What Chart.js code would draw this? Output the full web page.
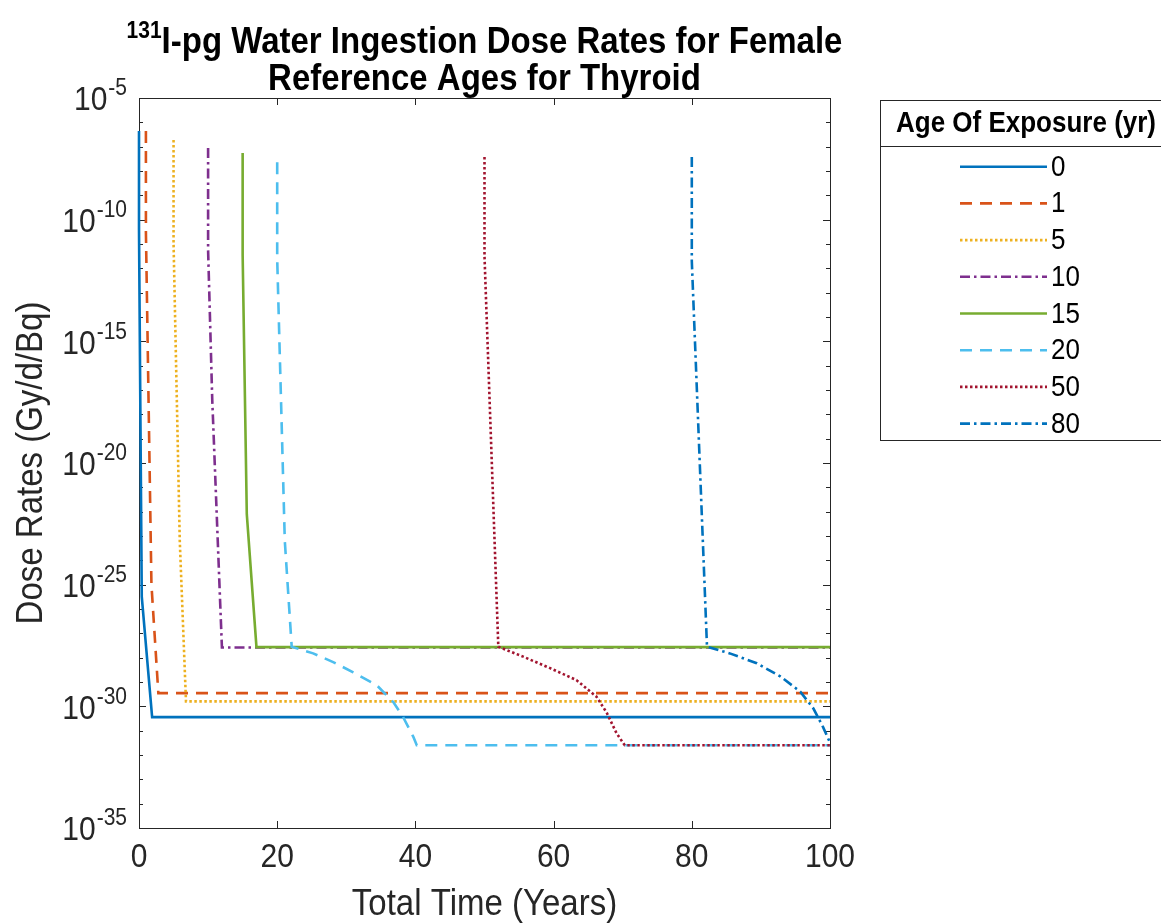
<!DOCTYPE html>
<html lang="en">
<head>
<meta charset="UTF-8">
<title>131I-pg Water Ingestion Dose Rates - Thyroid</title>
<script src="https://cdn.jsdelivr.net/npm/chart.js"></script>
<style>
    html, body { margin: 0; padding: 0; background: #fff; }
    #wrap { width: 1161px; height: 924px; position: relative; }
</style>
</head>
<body>
<div id="wrap"><canvas id="grafico"></canvas></div>
<script>
// ages of exposure (legend entries)
const ages = ['0', '1', '5', '10', '15', '20', '50', '80'];

// total time (years) and dose rate (Gy/d/Bq) for each age
const t0 = [0, 0, 0.4, 1.9, 100];
const d0 = [4.4e-7, 4.0e-11, 3.2e-26, 3.6e-31, 3.6e-31];

const t1 = [1, 1, 1.8, 2.8, 100];
const d1 = [4.4e-7, 3.2e-11, 1.0e-25, 3.5e-30, 3.5e-30];

const t5 = [5, 5, 5.9, 6.8, 100];
const d5 = [1.9e-7, 1.1e-11, 6.3e-24, 1.6e-30, 1.6e-30];

const t10 = [10, 10, 10.6, 12, 100];
const d10 = [8.9e-8, 5.6e-12, 4.0e-18, 2.6e-28, 2.6e-28];

const t15 = [15, 15, 15.6, 17, 100];
const d15 = [5.5e-8, 3.5e-12, 7.9e-23, 2.7e-28, 2.7e-28];

const t20 = [20, 20, 21.1, 22.1, 25.2, 28.1, 31.0, 34.4, 36.8, 38.2, 39.7, 40.2, 100];
const d20 = [2.3e-8, 2.5e-12, 6.3e-24, 2.8e-28, 1.5e-28, 6.6e-29, 2.5e-29, 7.4e-30, 1.5e-30, 3.7e-31, 5.6e-32, 2.5e-32, 2.5e-32];

const t50 = [50, 50, 52, 55.6, 59.5, 63.3, 66.2, 67.7, 69.1, 70.3, 100];
const d50 = [3.8e-8, 3.2e-12, 2.8e-28, 1.1e-28, 3.7e-29, 1.2e-29, 2.5e-30, 5.4e-31, 7.9e-32, 2.5e-32, 2.5e-32];

const t80 = [80, 80, 82.2, 85.5, 89.4, 92.8, 95.7, 97.6, 99, 100];
const d80 = [3.8e-8, 2.0e-12, 2.8e-28, 1.5e-28, 5.9e-29, 1.7e-29, 4.0e-30, 8.1e-31, 1.4e-31, 3.2e-32];

// axis ticks
const xTicks = [0, 20, 40, 60, 80, 100];
const yExpMajor = [-5, -10, -15, -20, -25, -30, -35];

const tempos = [t0, t1, t5, t10, t15, t20, t50, t80];
const doses = [d0, d1, d5, d10, d15, d20, d50, d80];

// MATLAB default colour order and line styles
const cores = ['#0072BD', '#D95319', '#EDB120', '#7E2F8E', '#77AC30', '#4DBEEE', '#A2142F', '#0072BD'];
const tracos = [[], [12, 8], [2.5, 2.5], [10, 4, 2.5, 4], [], [12, 8], [2.5, 2.5], [10, 4, 2.5, 4]];

const AXIS = '#262626';
const FONT = '"Liberation Sans", Arial, Helvetica, sans-serif';
const STRETCH = 1.12; // glyphs in the figure are a little taller than Arial

function texto(ctx, str, x, y, font, align, base, rot) {
    ctx.save();
    ctx.translate(x, y);
    if (rot) ctx.rotate(rot);
    ctx.scale(1, STRETCH);
    ctx.font = font;
    ctx.textAlign = align;
    ctx.textBaseline = base;
    ctx.fillText(str, 0, 0);
    ctx.restore();
}

// axes box, inward ticks, labels, title and legend in MATLAB style
const matlabStyle = {
    id: 'matlabStyle',
    beforeDatasetsDraw(chart) {
        const ctx = chart.ctx;
        const a = chart.chartArea;
        const xs = chart.scales.x, ys = chart.scales.y;

        ctx.save();
        ctx.strokeStyle = AXIS;
        ctx.lineWidth = 1;
        ctx.strokeRect(a.left + 0.5, a.top + 0.5, a.right - a.left, a.bottom - a.top);

        ctx.beginPath();
        xTicks.forEach(v => {
            const px = Math.round(xs.getPixelForValue(v)) + 0.5;
            ctx.moveTo(px, a.bottom); ctx.lineTo(px, a.bottom - 7);
            ctx.moveTo(px, a.top); ctx.lineTo(px, a.top + 7);
        });
        for (let e = -35; e <= -5; e++) {
            const py = Math.round(ys.getPixelForValue(Math.pow(10, e))) + 0.5;
            const len = e % 5 === 0 ? 7 : 4;
            ctx.moveTo(a.left, py); ctx.lineTo(a.left + len, py);
            ctx.moveTo(a.right, py); ctx.lineTo(a.right - len, py);
        }
        ctx.stroke();
        ctx.restore();
    },
    afterDraw(chart) {
        const ctx = chart.ctx;
        const a = chart.chartArea;
        const xs = chart.scales.x, ys = chart.scales.y;

        ctx.save();
        // tick labels
        ctx.fillStyle = AXIS;
        xs.ticks.forEach(t => {
            texto(ctx, String(t.value), xs.getPixelForValue(t.value), a.bottom + 30, '30px ' + FONT, 'center', 'middle');
        });
        yExpMajor.forEach(e => {
            const py = ys.getPixelForValue(Math.pow(10, e));
            ctx.font = '21px ' + FONT;
            const w = ctx.measureText('-' + (-e)).width;
            texto(ctx, '-' + (-e), a.left - 12, py - 9, '21px ' + FONT, 'right', 'middle');
            texto(ctx, '10', a.left - 13 - w, py + 3, '30px ' + FONT, 'right', 'middle');
        });

        // axis titles
        texto(ctx, 'Total Time (Years)', (a.left + a.right) / 2, 905, '33px ' + FONT, 'center', 'middle');
        texto(ctx, 'Dose Rates (Gy/d/Bq)', 32, (a.top + a.bottom) / 2, '33px ' + FONT, 'center', 'middle', -Math.PI / 2);

        // title with superscript mass number
        ctx.fillStyle = '#000';
        const cx = (a.left + a.right) / 2;
        const sup = '131', l1 = 'I-pg Water Ingestion Dose Rates for Female';
        ctx.font = 'bold 21px ' + FONT;
        const ws = ctx.measureText(sup).width;
        ctx.font = 'bold 33px ' + FONT;
        const w1 = ctx.measureText(l1).width;
        const x0 = cx - (ws + w1) / 2;
        texto(ctx, sup, x0, 38, 'bold 21px ' + FONT, 'left', 'alphabetic');
        texto(ctx, l1, x0 + ws, 53, 'bold 33px ' + FONT, 'left', 'alphabetic');
        texto(ctx, 'Reference Ages for Thyroid', cx, 90, 'bold 33px ' + FONT, 'center', 'alphabetic');

        // legend
        const L = 880, T = 100, R = 1172, B = 440, SEP = 146;
        ctx.fillStyle = '#fff';
        ctx.fillRect(L, T, R - L, B - T);
        ctx.strokeStyle = AXIS;
        ctx.lineWidth = 1;
        ctx.strokeRect(L + 0.5, T + 0.5, R - L, B - T);
        ctx.beginPath();
        ctx.moveTo(L, SEP + 0.5); ctx.lineTo(R, SEP + 0.5);
        ctx.stroke();
        ctx.fillStyle = '#000';
        texto(ctx, 'Age Of Exposure (yr)', (L + R) / 2, (T + SEP) / 2 + 1, 'bold 26px ' + FONT, 'center', 'middle');
        chart.data.datasets.forEach((ds, i) => {
            const ry = 166.7 + i * 36.7;
            ctx.save();
            ctx.strokeStyle = ds.borderColor;
            ctx.lineWidth = ds.borderWidth;
            ctx.setLineDash(ds.borderDash);
            ctx.beginPath();
            ctx.moveTo(960, ry); ctx.lineTo(1047, ry);
            ctx.stroke();
            ctx.restore();
            texto(ctx, ds.label, 1051, ry + 1, '26px ' + FONT, 'left', 'middle');
        });
        ctx.restore();
    }
};

const datasets = ages.map((age, i) => ({
    label: age,
    data: tempos[i].map((t, k) => ({ x: t, y: doses[i][k] })),
    borderColor: cores[i],
    borderDash: tracos[i],
    borderWidth: 2.6,
    borderCapStyle: 'butt',
    pointRadius: 0,
    fill: false,
    tension: 0,
    clip: 4,
    order: ages.length - i
}));

new Chart(document.getElementById('grafico'), {
    type: 'line',
    data: { datasets },
    options: {
        responsive: true,
        maintainAspectRatio: false,
        animation: false,
        events: [],
        layout: { padding: { left: 0, top: 98, right: 331, bottom: 0 } },
        plugins: { legend: { display: false }, title: { display: false }, tooltip: { enabled: false } },
        scales: {
            x: {
                type: 'linear', min: 0, max: 100,
                ticks: { display: false, stepSize: 20 },
                grid: { display: false },
                border: { display: false },
                afterFit(s) { s.height = 96; }
            },
            y: {
                type: 'logarithmic', min: 1e-35, max: 1e-5,
                ticks: { display: false },
                grid: { display: false },
                border: { display: false },
                afterBuildTicks(s) {
                    s.ticks = yExpMajor.map(e => ({ value: Math.pow(10, e) }));
                },
                afterFit(s) { s.width = 139; }
            }
        }
    },
    plugins: [matlabStyle]
});
</script>
</body>
</html>
